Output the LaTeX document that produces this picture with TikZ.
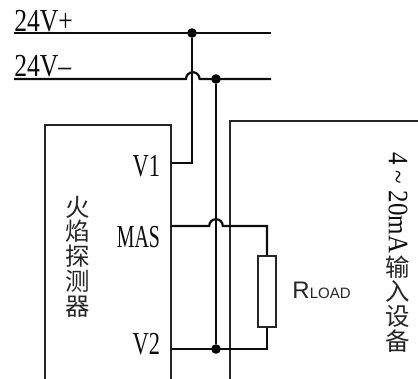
\documentclass[tikz,border=0pt]{standalone}
\usepackage{fontspec}
\setmainfont{Liberation Serif}
\newfontfamily\cjkfont{Noto Sans CJK SC}
\newfontfamily\loadfont{Liberation Sans}
\usetikzlibrary{calc}
\tikzset{
	wire/.style={line width=0.55mm, color=black!95},
	boxline/.style={line width=0.4mm, color=black!85},
	junction/.style={circle, fill=black, inner sep=0, minimum size=0.24cm},
	lbl/.style={inner sep=0, font=\fontsize{22.8}{24}\selectfont, color=black!95},
	cjklbl/.style={inner sep=0, align=center, color=black!85, font=\cjkfont\fontsize{17.4}{17.6}\selectfont}
}
\begin{document}
\begin{tikzpicture}
			%%%%% START %%%%%
			\useasboundingbox (0, 0) rectangle (10.45, 9.475);
			
			\draw[boxline] (1.125, 0) -- (1.125, 6.35) -- (4.275, 6.35) -- (4.275, 0);
			\draw[boxline] (5.75, 0) -- (5.75, 6.45) -- (10.45, 6.45);
			
			\coordinate (plusl) at (0.35, 8.65);
			\coordinate (plusr) at (6.775, 8.65);
			\coordinate (minusl) at (0.35, 7.5);
			\coordinate (minusr) at (6.775, 7.5);
			\coordinate (hopa) at (4.82, 7.5);
			\coordinate (hopb) at (5.4, 3.825);
			\coordinate (vone) at (4.275, 5.4);
			\coordinate (mas) at (4.275, 3.825);
			\coordinate (vtwo) at (4.275, 0.75);
			\coordinate (rtop) at (6.675, 3.825);
			\coordinate (rbot) at (6.675, 0.75);
			\coordinate (bend) at (4.8, 5.4);
			
			\node[junction] (dotplus) at (4.8, 8.65) {};
			\node[junction] (dotminus) at (5.4, 7.5) {};
			\node[junction] (dotvtwo) at (5.4, 0.75) {};
			\node[draw, boxline, fill=white, minimum width=0.45cm, minimum height=1.775cm, inner sep=0] (rload) at (6.675, 2.1875) {};
			
			\draw[wire] (plusl) -- (plusr);
			\draw[wire] (minusl) -- ($(hopa)+(-0.17, 0)$) arc (180:0:0.17) -- (minusr);
			\draw[wire] (dotplus) -- (bend) -- (vone);
			\draw[wire] (dotminus) -- (dotvtwo);
			\draw[wire] (mas) -- ($(hopb)+(-0.17, 0)$) arc (180:0:0.17) -- (rtop) -- (rload.north);
			\draw[wire] (vtwo) -- (rbot) -- (rload.south);
			
			\node[lbl] (plustext) at (1.09, 8.95) {\scalebox{0.8}[1]{24V+}};
			\node[lbl, anchor=base west] (minustext) at (0.35, 7.56) {\scalebox{0.8}[1]{24V--}};
			\node[lbl] (vonetext) at (3.66, 5.325) {\scalebox{0.7}[1]{V1}};
			\node[lbl] (mastext) at (3.46, 3.55) {\scalebox{0.62}[1]{MAS}};
			\node[lbl] (vtwotext) at (3.66, 0.875) {\scalebox{0.7}[1]{V2}};
			
			\node[cjklbl] (detector) at (1.95, 3.0625) {火\\焰\\探\\测\\器};
			\node[inner sep=0, color=black!85, font=\loadfont] (loadtext) at (8.04, 2.225) {\fontsize{17}{20}\selectfont R\fontsize{10.7}{12}\selectfont LOAD};
			
			\node[inner sep=0, rotate=-90, color=black!95, font=\fontsize{20}{22}\selectfont] (rangetext) at (9.95, 4.41) {\scalebox{0.89}[1]{4 \~{} 20mA}};
			\node[cjklbl] (inputdev) at (9.95, 1.875) {输\\入\\设\\备};
			
			%%%%% END %%%%%
		\end{tikzpicture}
\end{document}
